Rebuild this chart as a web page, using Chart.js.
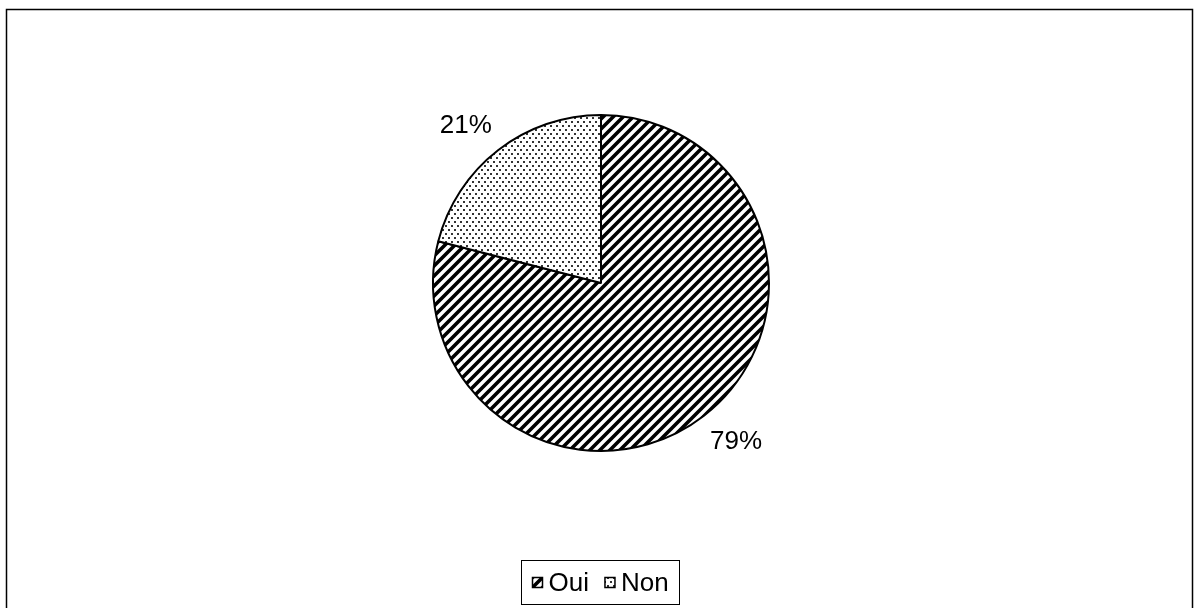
<!DOCTYPE html>
<html>
<head>
<meta charset="utf-8">
<title>Oui / Non</title>
<script src="https://cdn.jsdelivr.net/npm/chart.js@4/dist/chart.umd.min.js"></script>
<style>
  html, body { margin: 0; padding: 0; background: #fff; }
  #wrap { width: 1195px; height: 608px; }
</style>
</head>
<body>
<div id="wrap"><canvas id="pieChart" width="1195" height="608"></canvas></div>
<script>
// answers (percent of respondents)
const labels = ['Oui', 'Non'];
const values = [79, 21];

const FONT = '"Liberation Sans", Arial, sans-serif';

// fill patterns: wide upward diagonal for "Oui", small dots for "Non"
function makeHatch() {
  const c = document.createElement('canvas');
  c.width = 10; c.height = 10;
  const g = c.getContext('2d');
  g.fillStyle = '#fff';
  g.fillRect(0, 0, 10, 10);
  g.strokeStyle = '#000';
  g.lineWidth = 3.6;
  g.beginPath();
  g.moveTo(-2, 12); g.lineTo(12, -2);
  g.moveTo(-2, 2); g.lineTo(2, -2);
  g.moveTo(8, 12); g.lineTo(12, 8);
  g.stroke();
  return g.createPattern(c, 'repeat');
}

function makeDots() {
  const c = document.createElement('canvas');
  c.width = 6; c.height = 8;
  const g = c.getContext('2d');
  g.fillStyle = '#fff';
  g.fillRect(0, 0, 6, 8);
  g.fillStyle = '#333';
  g.fillRect(1, 1, 2, 2);
  g.fillRect(4, 5, 2, 2);
  return g.createPattern(c, 'repeat');
}

const fills = [makeHatch(), makeDots()];

// white background and the outer frame
const framePlugin = {
  id: 'frame',
  beforeDraw(chart) {
    const ctx = chart.ctx;
    ctx.save();
    ctx.fillStyle = '#fff';
    ctx.fillRect(0, 0, chart.width, chart.height);
    ctx.strokeStyle = '#000';
    ctx.lineWidth = 1.5;
    ctx.strokeRect(6.5, 9.5, 1186, 620);
    ctx.restore();
  }
};

// percentage labels just outside each slice
const percentPlugin = {
  id: 'percentLabels',
  afterDatasetsDraw(chart) {
    const ctx = chart.ctx;
    const meta = chart.getDatasetMeta(0);
    const data = chart.data.datasets[0].data;
    const total = data.reduce((a, b) => a + b, 0);
    ctx.save();
    ctx.font = '26px ' + FONT;
    ctx.fillStyle = '#000';
    ctx.textBaseline = 'middle';
    meta.data.forEach((arc, i) => {
      const p = arc.getProps(['x', 'y', 'startAngle', 'endAngle', 'outerRadius'], true);
      const mid = (p.startAngle + p.endAngle) / 2;
      const dx = Math.cos(mid), dy = Math.sin(mid);
      const text = Math.round(data[i] / total * 100) + '%';
      const r = p.outerRadius + 10;
      ctx.textAlign = dx >= 0 ? 'left' : 'right';
      const x = p.x + dx * r;
      const y = p.y + dy * r + dy * 22;
      ctx.fillText(text, x, y + 1);
    });
    ctx.restore();
  }
};

// boxed legend at the bottom
const legendPlugin = {
  id: 'legendBox',
  afterDraw(chart) {
    const ctx = chart.ctx;
    const names = chart.data.labels;
    ctx.save();
    ctx.font = '26px ' + FONT;
    const sw = 10, gapSw = 6, gapItem = 16, pad = 11;
    let total = pad * 2;
    names.forEach((n, i) => {
      total += sw + gapSw + ctx.measureText(n).width + (i < names.length - 1 ? gapItem : 0);
    });
    const boxW = Math.round(total);
    const boxH = 44;
    const left = Math.round(600 - boxW / 2) + 0.5;
    const top = 560.5;
    ctx.fillStyle = '#fff';
    ctx.fillRect(left, top, boxW, boxH);
    ctx.strokeStyle = '#000';
    ctx.lineWidth = 1;
    ctx.strokeRect(left, top, boxW, boxH);

    const cy = top + boxH / 2;
    let x = left + pad;
    ctx.textBaseline = 'middle';
    ctx.textAlign = 'left';
    names.forEach((n, i) => {
      ctx.fillStyle = fills[i];
      ctx.fillRect(x, cy - 5, sw, sw);
      ctx.strokeStyle = '#000';
      ctx.lineWidth = 1.5;
      ctx.strokeRect(x, cy - 5, sw, sw);
      x += sw + gapSw;
      ctx.fillStyle = '#000';
      ctx.fillText(n, x, cy + 1);
      x += ctx.measureText(n).width + gapItem;
    });
    ctx.restore();
  }
};

new Chart(document.getElementById('pieChart'), {
  type: 'pie',
  data: {
    labels: labels,
    datasets: [{
      data: values,
      backgroundColor: fills,
      borderColor: '#000',
      borderWidth: 2
    }]
  },
  options: {
    responsive: false,
    animation: false,
    devicePixelRatio: 1,
    layout: {
      padding: { top: 114, bottom: 156, left: 432, right: 425 }
    },
    plugins: {
      legend: { display: false },
      tooltip: { enabled: false }
    }
  },
  plugins: [framePlugin, percentPlugin, legendPlugin]
});
</script>
</body>
</html>
